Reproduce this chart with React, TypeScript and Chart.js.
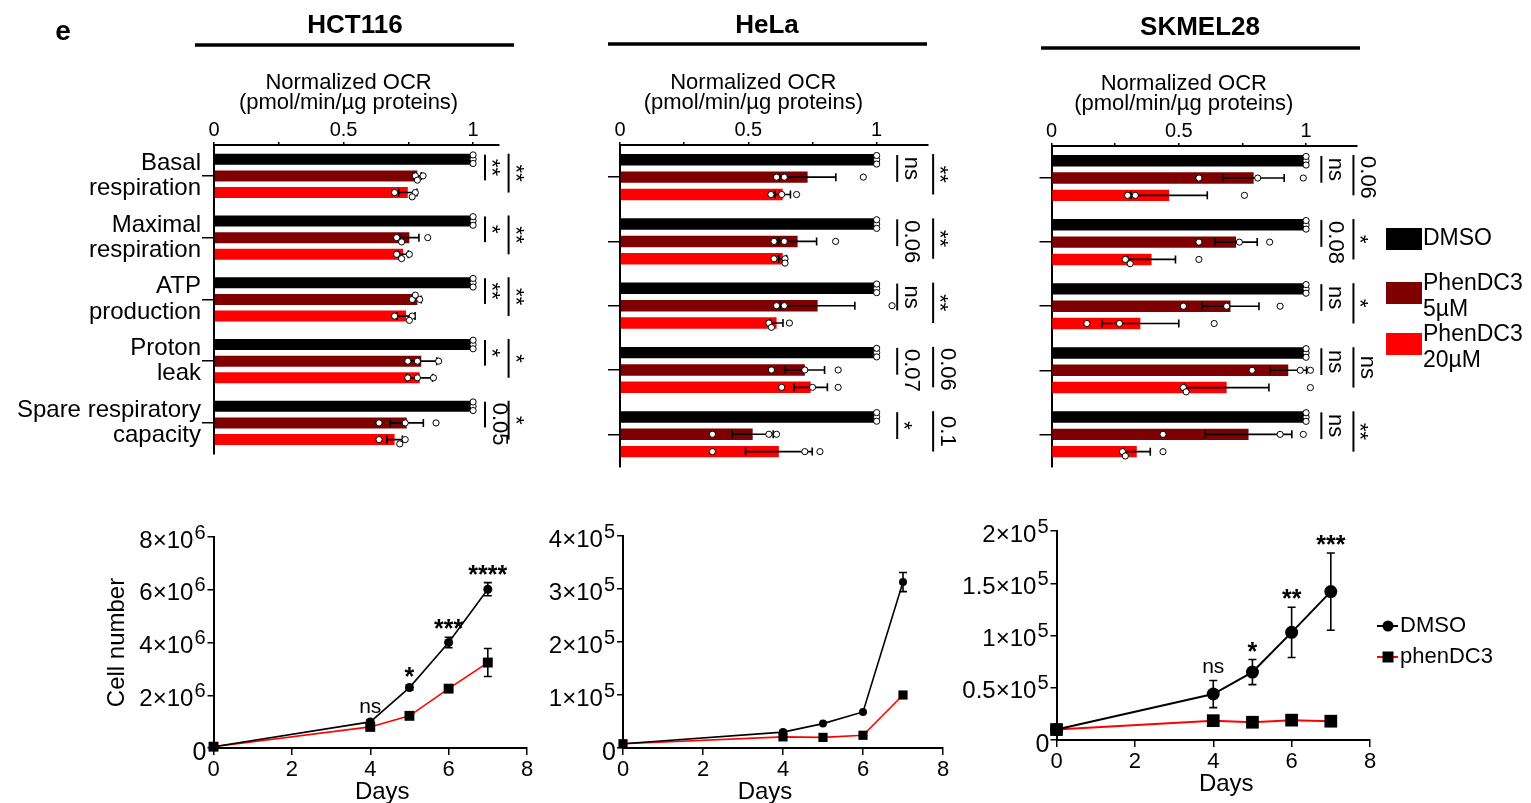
import React, { useEffect, useRef } from 'react';
import { Chart, registerables } from 'chart.js';

Chart.register(...registerables);

const FONT = '"Liberation Sans", Arial, Helvetica, sans-serif';

/* ---------------- OCR bar charts: data ---------------- */
const ocrCategories = [
  ['Basal', 'respiration'],
  ['Maximal', 'respiration'],
  ['ATP', 'production'],
  ['Proton', 'leak'],
  ['Spare respiratory', 'capacity'],
];
const ocrSeries = ['DMSO', 'PhenDC3 5µM', 'PhenDC3 20µM'];
const ocrLegendLines = [['DMSO'], ['PhenDC3', '5µM'], ['PhenDC3', '20µM']];
const ocrTickValues = [0, 0.25, 0.5, 0.75, 1];
const ocrTickLabels = ['0', '', '0.5', '', '1'];
const ocrAxisTitle = ['Normalized OCR', '(pmol/min/µg proteins)'];

// HCT116
const hctDmso = [1, 1, 1, 1, 1];
const hctPhen5 = [0.785, 0.754, 0.785, 0.8, 0.744];
const hctPhen20 = [0.748, 0.73, 0.741, 0.794, 0.697];
const hctDmsoErr = [0, 0, 0, 0, 0];
const hctPhen5Err = [0.015, 0.037, 0.015, 0.06, 0.064];
const hctPhen20Err = [0.035, 0.02, 0.035, 0.05, 0.03];
const hctDmsoDots = [[1, 1, 1], [1, 1, 1], [1, 1, 1], [1, 1, 1], [1, 1, 1]];
const hctPhen5Dots = [[0.777, 0.807, 0.785], [0.705, 0.724, 0.825], [0.765, 0.794, 0.777], [0.748, 0.785, 0.867], [0.637, 0.738, 0.857]];
const hctPhen20Dots = [[0.697, 0.777, 0.765], [0.705, 0.724, 0.754], [0.697, 0.765, 0.754], [0.748, 0.785, 0.847], [0.637, 0.738, 0.717]];
const hctSigVs5 = ['**', '*', '**', '*', '0.05'];
const hctSigVs20 = ['**', '**', '**', '*', '*'];

// HeLa
const helaDmso = [1, 1, 1, 1, 1];
const helaPhen5 = [0.731, 0.692, 0.77, 0.72, 0.517];
const helaPhen20 = [0.634, 0.634, 0.61, 0.743, 0.619];
const helaDmsoErr = [0, 0, 0, 0, 0];
const helaPhen5Err = [0.11, 0.074, 0.145, 0.077, 0.08];
const helaPhen20Err = [0.03, 0.015, 0.025, 0.065, 0.13];
const helaDmsoDots = [[1, 1, 1], [1, 1, 1], [1, 1, 1], [1, 1, 1], [1, 1, 1]];
const helaPhen5Dots = [[0.61, 0.64, 0.948], [0.6, 0.64, 0.84], [0.61, 0.64, 1.06], [0.59, 0.72, 0.85], [0.36, 0.58, 0.61]];
const helaPhen20Dots = [[0.588, 0.63, 0.688], [0.6, 0.643, 0.643], [0.58, 0.59, 0.66], [0.63, 0.75, 0.85], [0.36, 0.72, 0.779]];
const helaSigVs5 = ['ns', '0.06', 'ns', '0.07', '*'];
const helaSigVs20 = ['**', '**', '**', '0.06', '0.1'];

// SKMEL28
const skDmso = [1, 1, 1, 1, 1];
const skPhen5 = [0.794, 0.725, 0.703, 0.93, 0.774];
const skPhen20 = [0.462, 0.393, 0.349, 0.688, 0.335];
const skDmsoErr = [0, 0, 0, 0, 0];
const skPhen5Err = [0.12, 0.083, 0.112, 0.072, 0.17];
const skPhen20Err = [0.15, 0.094, 0.151, 0.166, 0.053];
const skDmsoDots = [[1, 1, 1], [1, 1, 1], [1, 1, 1], [1, 1, 1], [1, 1, 1]];
const skPhen5Dots = [[0.579, 0.81, 0.989], [0.579, 0.738, 0.857], [0.518, 0.688, 0.898], [0.788, 0.977, 1.017], [0.438, 0.898, 0.989]];
const skPhen20Dots = [[0.299, 0.329, 0.758], [0.29, 0.309, 0.579], [0.139, 0.267, 0.639], [0.518, 0.529, 1.017], [0.279, 0.29, 0.438]];
const skSigVs5 = ['ns', '0.08', 'ns', 'ns', 'ns'];
const skSigVs20 = ['0.06', '*', '*', 'ns', '**'];

/* ---------------- Growth curves: data ---------------- */
const growthDays = [0, 4, 5, 6, 7];
const growthSeries = ['DMSO', 'phenDC3'];
const growthXTicks = [0, 2, 4, 6, 8];

const hctGrowthDmso = [50000, 990000, 2290000, 4000000, 6020000];
const hctGrowthDmsoErr = [20000, 80000, 100000, 200000, 250000];
const hctGrowthPhen = [50000, 800000, 1220000, 2250000, 3240000];
const hctGrowthPhenErr = [20000, 100000, 100000, 120000, 530000];
const hctGrowthSig = ['', 'ns', '*', '***', '****'];
const hctGrowthYTicks = [0, 2e6, 4e6, 6e6, 8e6];
const hctGrowthYMantissa = ['0', '2×10', '4×10', '6×10', '8×10'];
const hctGrowthYExponent = ['', '6', '6', '6', '6'];

const helaGrowthDmso = [8000, 30000, 46000, 68000, 313000];
const helaGrowthDmsoErr = [1000, 3000, 2000, 2000, 18000];
const helaGrowthPhen = [8000, 21000, 20000, 24000, 100000];
const helaGrowthPhenErr = [1000, 2000, 1500, 1500, 4000];
const helaGrowthSig = ['', '', '', '', ''];
const helaGrowthYTicks = [0, 1e5, 2e5, 3e5, 4e5];
const helaGrowthYMantissa = ['0', '1×10', '2×10', '3×10', '4×10'];
const helaGrowthYExponent = ['', '5', '5', '5', '5'];

const skGrowthDmso = [10000, 44000, 65000, 103000, 142000];
const skGrowthDmsoErr = [1500, 13000, 12000, 24000, 37000];
const skGrowthPhen = [10000, 18500, 17000, 19000, 18000];
const skGrowthPhenErr = [1000, 1500, 1500, 1500, 1000];
const skGrowthSig = ['', 'ns', '*', '**', '***'];
const skGrowthYTicks = [0, 0.5e5, 1e5, 1.5e5, 2e5];
const skGrowthYMantissa = ['0', '0.5×10', '1×10', '1.5×10', '2×10'];
const skGrowthYExponent = ['', '5', '5', '5', '5'];

/* ---------------- styling ---------------- */
const BAR_COLORS = ['#000000', '#7f0000', '#ff0000'];
const CAT_PCT = 0.81;
const BAR_PCT = 0.66;

function font(size: number, bold = false) {
  return `${bold ? 'bold ' : ''}${size}px ${FONT}`;
}

function jitterPx(vals: number[], k: number) {
  let n = 0;
  for (let q = 0; q < k; q++) if (Math.abs(vals[q] - vals[k]) < 0.022) n++;
  return [0, 1, -1, 2][n] * 4.3;
}

type BarSpec = {
  title: string; titleX: number; titleY: number;
  ulX1: number; ulX2: number; ulY: number;
  canvasLeft: number; canvasWidth: number; canvasHeight: number;
  yAxisWidth: number; xAxisHeight: number; padRight: number; padBottom: number;
  xMax: number; showCategoryLabels: boolean;
  means: number[][]; errs: number[][]; dots: number[][][];
  sigInner: string[]; sigOuter: string[]; innerX: number; outerX: number;
  letter?: boolean; legend?: boolean;
};

function drawSig(ctx: CanvasRenderingContext2D, x: number, y1: number, y2: number, text: string) {
  ctx.save();
  ctx.strokeStyle = '#000';
  ctx.lineWidth = 2;
  ctx.beginPath();
  ctx.moveTo(x, y1);
  ctx.lineTo(x, y2);
  ctx.stroke();
  ctx.font = font(22);
  const tw = ctx.measureText(text).width;
  const len = y2 - y1;
  const start = y1 + Math.max(1, (len - tw) / 2);
  const isStar = /^\*+$/.test(text);
  ctx.translate(x + (isStar ? 6 : 14), start);
  ctx.rotate(Math.PI / 2);
  ctx.textAlign = 'left';
  ctx.textBaseline = 'middle';
  ctx.fillStyle = '#000';
  ctx.fillText(text, 0, 0);
  ctx.restore();
}

function makeBarChart(canvas: HTMLCanvasElement, spec: BarSpec) {
  const barSets: any[] = spec.means.map((m, i) => ({
    label: ocrSeries[i],
    data: m,
    backgroundColor: BAR_COLORS[i],
    borderWidth: 0,
    barPercentage: BAR_PCT,
    categoryPercentage: CAT_PCT,
  }));

  const plugin = {
    id: 'ocrExtras',
    afterDatasetsDraw(chart: any) {
      const ctx = chart.ctx as CanvasRenderingContext2D;
      const xs = chart.scales.x;
      ctx.save();
      ctx.strokeStyle = '#000';
      ctx.lineWidth = 1.6;
      spec.means.forEach((m, i) => {
        const meta = chart.getDatasetMeta(i);
        m.forEach((v, j) => {
          const e = spec.errs[i][j];
          if (!e) return;
          const y = meta.data[j].y;
          const x1 = xs.getPixelForValue(v - e);
          const x2 = xs.getPixelForValue(v + e);
          ctx.beginPath();
          ctx.moveTo(x1, y); ctx.lineTo(x2, y);
          ctx.moveTo(x1, y - 4); ctx.lineTo(x1, y + 4);
          ctx.moveTo(x2, y - 4); ctx.lineTo(x2, y + 4);
          ctx.stroke();
        });
      });
      ctx.lineWidth = 1;
      spec.dots.forEach((groups, i) => {
        const meta = chart.getDatasetMeta(i);
        groups.forEach((vals, j) => {
          const y0 = meta.data[j].y;
          vals.forEach((v, k) => {
            const x = xs.getPixelForValue(v);
            const y = y0 + jitterPx(vals, k);
            ctx.beginPath();
            ctx.arc(x, y, 3.1, 0, Math.PI * 2);
            ctx.fillStyle = '#fff';
            ctx.fill();
            ctx.stroke();
          });
        });
      });
      ctx.restore();
    },
    afterDraw(chart: any) {
      const ctx = chart.ctx as CanvasRenderingContext2D;
      const xs = chart.scales.x;
      const L = spec.canvasLeft;
      ctx.save();
      ctx.fillStyle = '#000';
      if (spec.letter) {
        ctx.font = font(28, true);
        ctx.textAlign = 'center';
        ctx.textBaseline = 'middle';
        ctx.fillText('e', 63 - L, 32);
      }
      ctx.font = font(26, true);
      ctx.textAlign = 'center';
      ctx.textBaseline = 'middle';
      ctx.fillText(spec.title, spec.titleX - L, spec.titleY);
      ctx.fillRect(spec.ulX1 - L, spec.ulY - 1.75, spec.ulX2 - spec.ulX1, 3.5);
      ctx.font = font(22);
      const cx = xs.getPixelForValue(0.5) + 5;
      ctx.fillText(ocrAxisTitle[0], cx, chart.chartArea.top - 62);
      ctx.fillText(ocrAxisTitle[1], cx, chart.chartArea.top - 42);
      const m0 = chart.getDatasetMeta(0);
      const m1 = chart.getDatasetMeta(1);
      const m2 = chart.getDatasetMeta(2);
      ocrCategories.forEach((_, j) => {
        const b0 = m0.data[j], b1 = m1.data[j], b2 = m2.data[j];
        const top = b0.y - b0.height / 2;
        drawSig(ctx, xs.getPixelForValue(spec.innerX), top + 1, b1.y + b1.height / 2 - 1, spec.sigInner[j]);
        drawSig(ctx, xs.getPixelForValue(spec.outerX), top, b2.y, spec.sigOuter[j]);
      });
      if (spec.legend) {
        const boxes = [228, 282, 333];
        ctx.font = font(23);
        ctx.textAlign = 'left';
        ctx.textBaseline = 'middle';
        ocrLegendLines.forEach((lines, i) => {
          ctx.fillStyle = BAR_COLORS[i];
          ctx.fillRect(1386 - L, boxes[i], 36, 22);
          ctx.fillStyle = '#000';
          if (lines.length === 1) {
            ctx.fillText(lines[0], 1423 - L, boxes[i] + 11);
          } else {
            ctx.fillText(lines[0], 1423 - L, boxes[i] + 2);
            ctx.fillText(lines[1], 1423 - L, boxes[i] + 28);
          }
        });
      }
      ctx.restore();
    },
  };

  return new Chart(canvas, {
    type: 'bar',
    data: { labels: ocrCategories as any, datasets: barSets },
    options: {
      responsive: false,
      animation: false,
      indexAxis: 'y',
      devicePixelRatio: 1,
      layout: { padding: { left: 0, top: 0, right: spec.padRight, bottom: spec.padBottom } },
      plugins: { legend: { display: false }, tooltip: { enabled: false }, title: { display: false } },
      scales: {
        x: {
          type: 'linear',
          position: 'top',
          min: 0,
          max: spec.xMax,
          afterBuildTicks: (s: any) => { s.ticks = ocrTickValues.map((v) => ({ value: v })); },
          afterFit: (s: any) => { s.height = spec.xAxisHeight; },
          ticks: {
            autoSkip: false,
            maxRotation: 0,
            padding: 0,
            color: '#000',
            font: { family: FONT, size: 20 },
            callback: (_v: any, i: number) => ocrTickLabels[i],
          },
          grid: { drawOnChartArea: false, drawTicks: true, tickLength: 3, color: '#000', lineWidth: 1.5 },
          border: { display: true, color: '#000', width: 2 },
        },
        y: {
          type: 'category',
          position: 'left',
          offset: true,
          afterFit: (s: any) => { s.width = spec.yAxisWidth; },
          ticks: {
            autoSkip: false,
            padding: 1,
            color: '#000',
            font: { family: FONT, size: 24, lineHeight: 1.05 },
            callback: function (this: any, v: any) {
              return spec.showCategoryLabels ? this.getLabelForValue(v) : '';
            },
          },
          grid: { offset: false, drawOnChartArea: false, drawTicks: true, tickLength: 12, color: '#000', lineWidth: 1.5 },
          border: { display: true, color: '#000', width: 2 },
        },
      } as any,
    },
    plugins: [plugin],
  } as any);
}

/* ---------------- growth line charts ---------------- */
type LineSpec = {
  canvasLeft: number; canvasTop: number; width: number; height: number;
  yAxisWidth: number; xAxisHeight: number; padTop: number; padRight: number;
  yMax: number; yTicks: number[]; yMantissa: string[]; yExponent: string[];
  dmso: number[]; dmsoErr: number[]; phen: number[]; phenErr: number[]; sig: string[];
  circleR: number; squareR: number; lineWidth: number;
  yTitle: boolean; daysOffset: number; legend: boolean;
};

function makeLineChart(canvas: HTMLCanvasElement, spec: LineSpec) {
  const plugin = {
    id: 'growthExtras',
    afterDatasetsDraw(chart: any) {
      const ctx = chart.ctx as CanvasRenderingContext2D;
      const xs = chart.scales.x, ys = chart.scales.y;
      ctx.save();
      ctx.strokeStyle = '#000';
      ctx.lineWidth = 1.6;
      [[spec.dmso, spec.dmsoErr], [spec.phen, spec.phenErr]].forEach(([vals, errs]) => {
        vals.forEach((v, j) => {
          const e = errs[j];
          const x = xs.getPixelForValue(growthDays[j]);
          const y1 = ys.getPixelForValue(v + e);
          const y2 = ys.getPixelForValue(Math.max(0, v - e));
          if (y2 - y1 < 3) return;
          ctx.beginPath();
          ctx.moveTo(x, y1); ctx.lineTo(x, y2);
          ctx.moveTo(x - 4, y1); ctx.lineTo(x + 4, y1);
          ctx.moveTo(x - 4, y2); ctx.lineTo(x + 4, y2);
          ctx.stroke();
        });
      });
      ctx.restore();
    },
    afterDraw(chart: any) {
      const ctx = chart.ctx as CanvasRenderingContext2D;
      const xs = chart.scales.x, ys = chart.scales.y;
      const area = chart.chartArea;
      const L = spec.canvasLeft, T = spec.canvasTop;
      ctx.save();
      ctx.fillStyle = '#000';
      spec.yTicks.forEach((v, i) => {
        const y = ys.getPixelForValue(v);
        const right = area.left - 8;
        if (!spec.yExponent[i]) {
          ctx.font = font(25);
          ctx.textAlign = 'right';
          ctx.textBaseline = 'middle';
          ctx.fillText(spec.yMantissa[i], area.left - 7, y + 5);
        } else {
          ctx.font = font(20);
          ctx.textAlign = 'right';
          ctx.textBaseline = 'middle';
          const ew = ctx.measureText(spec.yExponent[i]).width;
          ctx.fillText(spec.yExponent[i], right, y - 4);
          ctx.font = font(24);
          ctx.fillText(spec.yMantissa[i], right - ew - 1, y + 4);
        }
      });
      ctx.font = font(24);
      ctx.textAlign = 'center';
      ctx.textBaseline = 'middle';
      ctx.fillText('Days', (area.left + area.right) / 2 + spec.daysOffset, area.bottom + 44);
      if (spec.yTitle) {
        ctx.save();
        ctx.translate(area.left - 96, (area.top + area.bottom) / 2);
        ctx.rotate(-Math.PI / 2);
        ctx.fillText('Cell number', 0, 0);
        ctx.restore();
      }
      spec.sig.forEach((s, j) => {
        if (!s) return;
        const x = xs.getPixelForValue(growthDays[j]);
        const top = ys.getPixelForValue(spec.dmso[j] + spec.dmsoErr[j]);
        ctx.textAlign = 'center';
        ctx.textBaseline = 'alphabetic';
        if (s === 'ns') {
          ctx.font = font(21);
          ctx.fillText(s, x, top - 7);
        } else {
          ctx.font = font(25, true);
          ctx.fillText(s, x, top);
        }
      });
      if (spec.legend) {
        const rows = [626, 657];
        ctx.font = font(22);
        ctx.textAlign = 'left';
        ctx.textBaseline = 'middle';
        rows.forEach((ry, i) => {
          const y = ry - T;
          ctx.strokeStyle = i === 0 ? '#000' : '#ff0000';
          ctx.lineWidth = 2;
          ctx.beginPath();
          ctx.moveTo(1377 - L, y); ctx.lineTo(1398 - L, y);
          ctx.stroke();
          ctx.fillStyle = '#000';
          if (i === 0) {
            ctx.beginPath();
            ctx.arc(1388 - L, y, 5.5, 0, Math.PI * 2);
            ctx.fill();
          } else {
            ctx.fillRect(1388 - L - 5.5, y - 5.5, 11, 11);
          }
          ctx.fillText(growthSeries[i], 1400 - L, y);
        });
      }
      ctx.restore();
    },
  };

  return new Chart(canvas, {
    type: 'line',
    data: {
      datasets: [
        {
          label: growthSeries[0],
          data: growthDays.map((d, i) => ({ x: d, y: spec.dmso[i] })),
          borderColor: '#000000',
          borderWidth: spec.lineWidth,
          pointStyle: 'circle',
          pointRadius: spec.circleR,
          pointBackgroundColor: '#000000',
          pointBorderColor: '#000000',
          pointBorderWidth: 0,
          tension: 0,
          order: 0,
          clip: false,
        },
        {
          label: growthSeries[1],
          data: growthDays.map((d, i) => ({ x: d, y: spec.phen[i] })),
          borderColor: '#ff0000',
          borderWidth: spec.lineWidth,
          pointStyle: 'rect',
          pointRadius: spec.squareR,
          pointBackgroundColor: '#000000',
          pointBorderColor: '#000000',
          pointBorderWidth: 0,
          tension: 0,
          order: 1,
          clip: false,
        },
      ],
    },
    options: {
      responsive: false,
      animation: false,
      devicePixelRatio: 1,
      layout: { padding: { left: 0, top: spec.padTop, right: spec.padRight, bottom: 0 } },
      plugins: { legend: { display: false }, tooltip: { enabled: false }, title: { display: false } },
      scales: {
        x: {
          type: 'linear',
          min: 0,
          max: 8,
          afterBuildTicks: (s: any) => { s.ticks = growthXTicks.map((v) => ({ value: v })); },
          afterFit: (s: any) => { s.height = spec.xAxisHeight; },
          ticks: { autoSkip: false, maxRotation: 0, padding: 2, color: '#000', font: { family: FONT, size: 22 } },
          grid: { drawOnChartArea: false, drawTicks: true, tickLength: 7, color: '#000', lineWidth: 1.5 },
          border: { display: true, color: '#000', width: 2 },
        },
        y: {
          type: 'linear',
          min: 0,
          max: spec.yMax,
          afterBuildTicks: (s: any) => { s.ticks = spec.yTicks.map((v) => ({ value: v })); },
          afterFit: (s: any) => { s.width = spec.yAxisWidth; },
          ticks: { callback: () => '', padding: 0 },
          grid: { drawOnChartArea: false, drawTicks: true, tickLength: 6, color: '#000', lineWidth: 1.5 },
          border: { display: true, color: '#000', width: 2 },
        },
      } as any,
    },
    plugins: [plugin],
  } as any);
}

/* ---------------- specs ---------------- */
const barSpecs: BarSpec[] = [
  {
    title: 'HCT116', titleX: 355, titleY: 26, ulX1: 195, ulX2: 514, ulY: 45,
    canvasLeft: 0, canvasWidth: 535, canvasHeight: 480, yAxisWidth: 214, xAxisHeight: 145, padRight: 36, padBottom: 10,
    xMax: 1.1, showCategoryLabels: true,
    means: [hctDmso, hctPhen5, hctPhen20], errs: [hctDmsoErr, hctPhen5Err, hctPhen20Err],
    dots: [hctDmsoDots, hctPhen5Dots, hctPhen20Dots],
    sigInner: hctSigVs5, sigOuter: hctSigVs20, innerX: 1.046, outerX: 1.137, letter: true,
  },
  {
    title: 'HeLa', titleX: 767, titleY: 26, ulX1: 608, ulX2: 927, ulY: 44,
    canvasLeft: 560, canvasWidth: 420, canvasHeight: 480, yAxisWidth: 60, xAxisHeight: 145, padRight: 52, padBottom: 10,
    xMax: 1.2, showCategoryLabels: false,
    means: [helaDmso, helaPhen5, helaPhen20], errs: [helaDmsoErr, helaPhen5Err, helaPhen20Err],
    dots: [helaDmsoDots, helaPhen5Dots, helaPhen20Dots],
    sigInner: helaSigVs5, sigOuter: helaSigVs20, innerX: 1.08, outerX: 1.22,
  },
  {
    title: 'SKMEL28', titleX: 1200, titleY: 28, ulX1: 1041, ulX2: 1360, ulY: 48,
    canvasLeft: 980, canvasWidth: 551, canvasHeight: 480, yAxisWidth: 71.5, xAxisHeight: 146, padRight: 174, padBottom: 10,
    xMax: 1.2, showCategoryLabels: false,
    means: [skDmso, skPhen5, skPhen20], errs: [skDmsoErr, skPhen5Err, skPhen20Err],
    dots: [skDmsoDots, skPhen5Dots, skPhen20Dots],
    sigInner: skSigVs5, sigOuter: skSigVs20, innerX: 1.06, outerX: 1.186, legend: true,
  },
];

const lineSpecs: LineSpec[] = [
  {
    canvasLeft: 90, canvasTop: 500, width: 470, height: 315, yAxisWidth: 123.5, xAxisHeight: 67, padTop: 37, padRight: 33,
    yMax: 8e6, yTicks: hctGrowthYTicks, yMantissa: hctGrowthYMantissa, yExponent: hctGrowthYExponent,
    dmso: hctGrowthDmso, dmsoErr: hctGrowthDmsoErr, phen: hctGrowthPhen, phenErr: hctGrowthPhenErr, sig: hctGrowthSig,
    circleR: 4.5, squareR: 7, lineWidth: 1.6, yTitle: true, daysOffset: 12, legend: false,
  },
  {
    canvasLeft: 535, canvasTop: 500, width: 425, height: 315, yAxisWidth: 88, xAxisHeight: 67, padTop: 36, padRight: 17,
    yMax: 4e5, yTicks: helaGrowthYTicks, yMantissa: helaGrowthYMantissa, yExponent: helaGrowthYExponent,
    dmso: helaGrowthDmso, dmsoErr: helaGrowthDmsoErr, phen: helaGrowthPhen, phenErr: helaGrowthPhenErr, sig: helaGrowthSig,
    circleR: 4, squareR: 6.5, lineWidth: 1.6, yTitle: false, daysOffset: -18, legend: false,
  },
  {
    canvasLeft: 950, canvasTop: 500, width: 581, height: 315, yAxisWidth: 106.5, xAxisHeight: 75, padTop: 31, padRight: 161,
    yMax: 2e5, yTicks: skGrowthYTicks, yMantissa: skGrowthYMantissa, yExponent: skGrowthYExponent,
    dmso: skGrowthDmso, dmsoErr: skGrowthDmsoErr, phen: skGrowthPhen, phenErr: skGrowthPhenErr, sig: skGrowthSig,
    circleR: 6.5, squareR: 9, lineWidth: 2, yTitle: false, daysOffset: 13, legend: true,
  },
];

export default function App() {
  const barRefs = [useRef<HTMLCanvasElement>(null), useRef<HTMLCanvasElement>(null), useRef<HTMLCanvasElement>(null)];
  const lineRefs = [useRef<HTMLCanvasElement>(null), useRef<HTMLCanvasElement>(null), useRef<HTMLCanvasElement>(null)];

  useEffect(() => {
    document.body.style.margin = '0';
    const charts: Chart[] = [];
    barSpecs.forEach((s, i) => {
      const c = barRefs[i].current;
      if (c) charts.push(makeBarChart(c, s));
    });
    lineSpecs.forEach((s, i) => {
      const c = lineRefs[i].current;
      if (c) charts.push(makeLineChart(c, s));
    });
    return () => charts.forEach((c) => c.destroy());
  }, []);

  return (
    <div style={{ position: 'fixed', left: 0, top: 0, width: 1531, height: 803, overflow: 'hidden', background: '#ffffff' }}>
      {barSpecs.map((s, i) => (
        <canvas
          key={'b' + i}
          ref={barRefs[i]}
          width={s.canvasWidth}
          height={s.canvasHeight}
          style={{ position: 'absolute', left: s.canvasLeft, top: 0, width: s.canvasWidth, height: s.canvasHeight }}
        />
      ))}
      {lineSpecs.map((s, i) => (
        <canvas
          key={'l' + i}
          ref={lineRefs[i]}
          width={s.width}
          height={s.height}
          style={{ position: 'absolute', left: s.canvasLeft, top: s.canvasTop, width: s.width, height: s.height }}
        />
      ))}
    </div>
  );
}
